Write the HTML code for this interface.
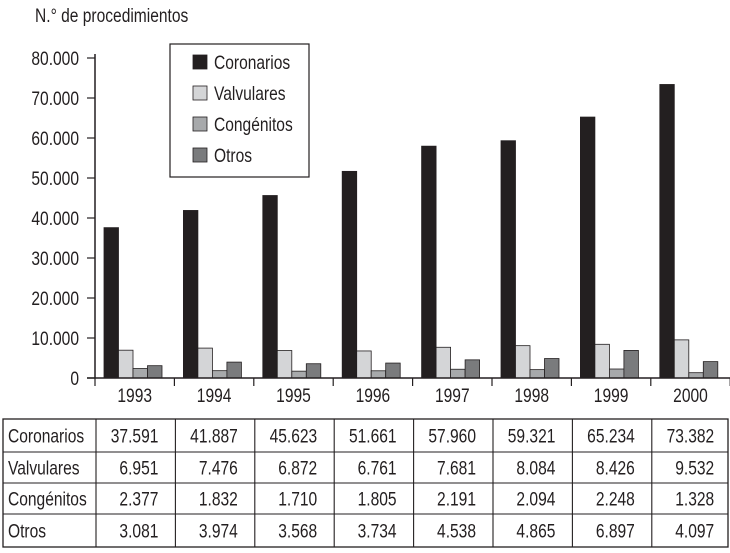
<!DOCTYPE html>
<html><head><meta charset="utf-8"><style>
html,body{margin:0;padding:0;background:#fff;}
svg text{font-family:"Liberation Sans",sans-serif;fill:#231f20;}
</style></head><body>
<svg id="c" width="730" height="548" viewBox="0 0 730 548" xmlns="http://www.w3.org/2000/svg">
<text transform="translate(35,22) scale(0.82,1)" font-size="19">N.° de procedimientos</text>
<g id="g"></g>
</svg>
<script>
const categories=["1993","1994","1995","1996","1997","1998","1999","2000"];
const seriesNames=["Coronarios","Valvulares","Congénitos","Otros"];
const coronarios=[37591,41887,45623,51661,57960,59321,65234,73382];
const valvulares=[6951,7476,6872,6761,7681,8084,8426,9532];
const congenitos=[2377,1832,1710,1805,2191,2094,2248,1328];
const otros=[3081,3974,3568,3734,4538,4865,6897,4097];
const yTicks=[0,10000,20000,30000,40000,50000,60000,70000,80000];
const series=[coronarios,valvulares,congenitos,otros];
const colors=["#231f20","#d4d5d7","#a7a9ab","#7a7b7d"];
const NS="http://www.w3.org/2000/svg";
const g=document.getElementById('g');
const x0=95,cw=79.4,y0=378,yTop=58,yMax=80000;
function y(v){return y0-(v/yMax)*(y0-yTop);}
function xc(i){return x0+i*cw;}
function fmt(v){return v.toString().replace(/\B(?=(\d{3})+(?!\d))/g,".");}
function el(tag,attrs,txt){const e=document.createElementNS(NS,tag);for(const k in attrs)e.setAttribute(k,attrs[k]);if(txt!==undefined)e.textContent=txt;g.appendChild(e);return e;}
function txt(x,yy,s,anchor){return el('text',{transform:'translate('+x+','+yy+') scale(0.82,1)','font-size':19,'text-anchor':anchor||'start'},s);}
let a=el('line',{x1:x0,y1:yTop-4,x2:x0,y2:y0,stroke:'#231f20','stroke-width':1.5});


yTicks.forEach(t=>{
  let l=el('line',{x1:x0-8,y1:y(t),x2:x0,y2:y(t),stroke:'#231f20','stroke-width':1.2});
  
  
  let tx=txt(x0-16,y(t)+7,fmt(t),'end');
  
  
});
const off=9,bw=14.5;
categories.forEach((c,i)=>{
  series.forEach((s,j)=>{
    let r=el('rect',{x:xc(i)+off+j*bw,y:y(s[i]),width:bw,height:y0-y(s[i]),fill:colors[j],stroke:'#231f20','stroke-width':0.8});
    
    
  });
  let lab=txt(xc(i)+cw/2,402,c,'middle');
  
  
});
let xa=el('line',{x1:x0-8,y1:y0,x2:730,y2:y0,stroke:'#231f20','stroke-width':1.5});


for(let i=0;i<=categories.length;i++){
  let t=el('line',{x1:xc(i),y1:y0,x2:xc(i),y2:y0+8,stroke:'#231f20','stroke-width':1.2});
  
  
}
let lb=el('rect',{x:170,y:44,width:139,height:133,fill:'#fff',stroke:'#231f20','stroke-width':1.2});


seriesNames.forEach((n,j)=>{
  let yy=62+j*31;
  let sw=el('rect',{x:193,y:yy-7,width:14,height:14,fill:colors[j],stroke:'#231f20','stroke-width':0.8});
  
  
  let t=txt(214,yy+7,n);
  
  
});
const tTop=419,left=3;
const rowsY=[419,452,483,514,547];
let tb=el('rect',{x:left,y:tTop,width:725,height:547-tTop,fill:'none',stroke:'#231f20','stroke-width':1.3});


for(let r=1;r<4;r++){
  let l=el('line',{x1:left,y1:rowsY[r],x2:728,y2:rowsY[r],stroke:'#231f20','stroke-width':1.1});
  
  
}
for(let i=0;i<categories.length;i++){
  let l=el('line',{x1:xc(i)+1,y1:tTop,x2:xc(i)+1,y2:547,stroke:'#231f20','stroke-width':1.1});
  
  
}
seriesNames.forEach((n,j)=>{
  let cy=(rowsY[j]+rowsY[j+1])/2+7;
  let t=txt(8,cy,n);
  
  
  series[j].forEach((v,i)=>{
    let c=txt(xc(i+1)-16,cy,fmt(v),'end');
    
    
  });
});
</script>
</body></html>
